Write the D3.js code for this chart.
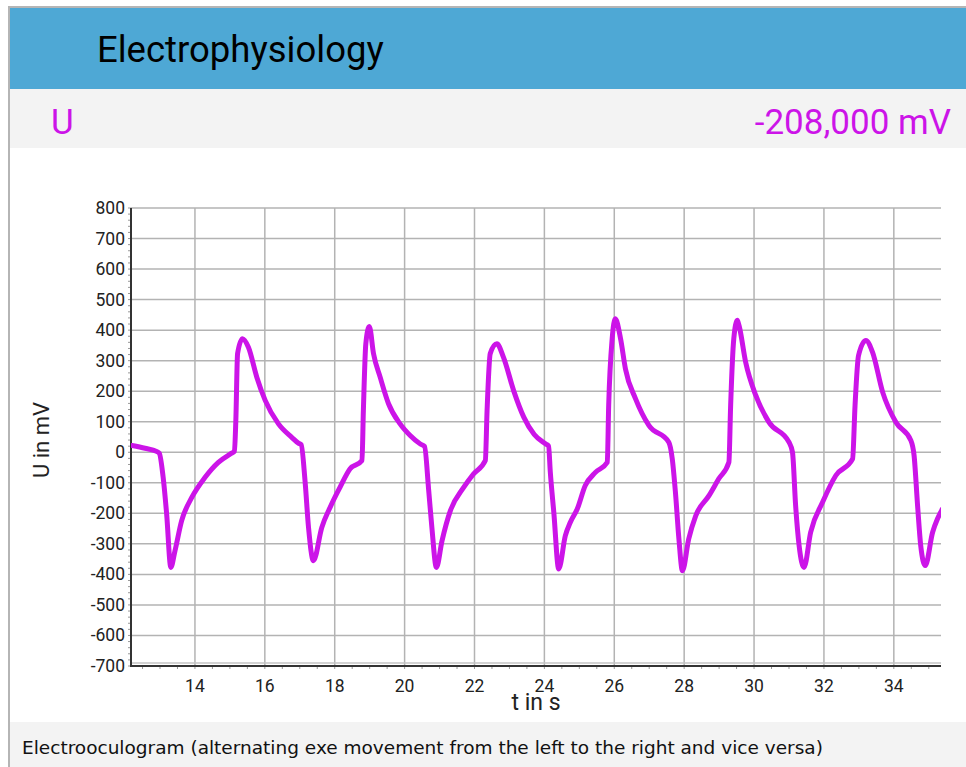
<!DOCTYPE html>
<html>
<head>
<meta charset="utf-8">
<script src="https://cdn.jsdelivr.net/npm/d3@7"></script>
<style>
	body { margin: 0; background: #fff; }
	svg { display: block; }
</style>
</head>
<body>
<div id="chartDiv"></div>
<script>
// time in s, voltage in mV
var timeS = [12.20, 12.57, 12.90, 12.98, 13.09, 13.19, 13.31, 13.43, 13.62, 13.91, 14.29, 14.67, 15.05, 15.13,
	15.17, 15.22, 15.36, 15.53, 15.77, 16.01, 16.39, 16.77, 16.96, 17.04, 17.15, 17.25, 17.39, 17.63, 17.87,
	18.15, 18.44, 18.78, 18.82, 18.89, 18.99, 19.11, 19.30, 19.54, 19.87, 20.16, 20.45, 20.57, 20.69, 20.78,
	20.91, 21.07, 21.31, 21.69, 21.97, 22.31, 22.36, 22.45, 22.64, 22.83, 23.12, 23.41, 23.71, 24.04, 24.12,
	24.17, 24.27, 24.41, 24.60, 24.74, 24.94, 25.17, 25.46, 25.80, 25.84, 25.94, 26.03, 26.18, 26.32, 26.61,
	26.99, 27.56, 27.66, 27.75, 27.85, 27.95, 28.13, 28.33, 28.71, 28.99, 29.28, 29.33, 29.42, 29.52, 29.57,
	29.76, 30.05, 30.43, 31.00, 31.10, 31.19, 31.29, 31.43, 31.62, 31.96, 32.34, 32.82, 32.89, 32.99, 33.20,
	33.39, 33.68, 34.06, 34.49, 34.58, 34.68, 34.77, 34.90, 35.11, 35.25, 35.39];
var voltMv = [22, 13, 3, -3, -82, -202, -377, -322, -224, -148, -82, -33, -3, 3,
	104, 323, 372, 344, 246, 170, 93, 49, 30, 25, -93, -246, -355, -246, -180,
	-115, -54, -27, 137, 355, 412, 323, 246, 159, 93, 55, 27, 19, -126, -246,
	-377, -290, -191, -115, -71, -27, 137, 323, 355, 311, 202, 115, 58, 27, 20,
	-66, -197, -382, -273, -230, -186, -109, -66, -33, 153, 372, 437, 372, 273, 175,
	88, 33, -22, -131, -284, -388, -284, -208, -142, -87, -33, 153, 372, 432, 415,
	295, 186, 98, 33, 0, -175, -306, -377, -262, -164, -76, -22, 153, 317, 366,
	328, 197, 98, 38, -11, -175, -306, -371, -262, -218, -186];

var yTicks = [800, 700, 600, 500, 400, 300, 200, 100, 0, -100, -200, -300, -400, -500, -600, -700];
var xTicks = [14, 16, 18, 20, 22, 24, 26, 28, 30, 32, 34];

var titleText = "Electrophysiology";
var quantityName = "U";
var currentValue = "-208,000 mV";
var xLabel = "t in s";
var yLabel = "U in mV";
var caption = "Electrooculogram (alternating exe movement from the left to the right and vice versa)";

var W = 966, H = 767;
var magenta = "#cc14e8";

var svg = d3.select("#chartDiv").append("svg")
	.attr("width", W).attr("height", H);

// page frame
svg.append("rect").attr("x", 0).attr("y", 0).attr("width", W).attr("height", H).attr("fill", "#fff");
svg.append("rect").attr("x", 8).attr("y", 6).attr("width", W - 8).attr("height", 2).attr("fill", "#b5b5b5");
svg.append("rect").attr("x", 8).attr("y", 6).attr("width", 2).attr("height", H - 6).attr("fill", "#b5b5b5");

// header
svg.append("rect").attr("x", 10).attr("y", 8).attr("width", W - 10).attr("height", 81).attr("fill", "#4ea8d5");
svg.append("text").attr("x", 97).attr("y", 62)
	.style("font-family", "Roboto, sans-serif").style("font-size", "36.5px").attr("fill", "#000")
	.text(titleText);

// value band
svg.append("rect").attr("x", 10).attr("y", 89).attr("width", W - 10).attr("height", 59).attr("fill", "#f3f3f3");
svg.append("text").attr("x", 51).attr("y", 134)
	.style("font-family", "Roboto, sans-serif").style("font-size", "35px").attr("fill", magenta)
	.text(quantityName);
svg.append("text").attr("x", 951).attr("y", 134).attr("text-anchor", "end")
	.style("font-family", "Roboto, sans-serif").style("font-size", "35px").attr("fill", magenta)
	.text(currentValue);

// caption band
svg.append("rect").attr("x", 10).attr("y", 722).attr("width", W - 10).attr("height", 45).attr("fill", "#f3f3f3");
svg.append("text").attr("x", 22).attr("y", 754)
	.style("font-family", "'DejaVu Sans', sans-serif").style("font-size", "18.5px").attr("fill", "#111")
	.text(caption);

// plot
var plotL = 131, plotR = 941, plotT = 208, plotB = 666;
var x = d3.scaleLinear().domain([12.17, 35.35]).range([plotL, plotR]);
var y = d3.scaleLinear().domain([-700, 800]).range([plotB, plotT]);

var grid = svg.append("g");
grid.selectAll("line.h").data(yTicks).enter().append("line")
	.attr("x1", plotL).attr("x2", plotR)
	.attr("y1", function(d) { return y(d); }).attr("y2", function(d) { return y(d); })
	.attr("stroke", "#b3b3b3").attr("stroke-width", 1.5);
grid.selectAll("line.v").data(xTicks).enter().append("line")
	.attr("y1", plotT).attr("y2", plotB)
	.attr("x1", function(d) { return x(d); }).attr("x2", function(d) { return x(d); })
	.attr("stroke", "#b3b3b3").attr("stroke-width", 1.5);

// minor ticks
var yMinor = d3.range(-700, 801, 20);
svg.append("g").selectAll("line").data(yMinor).enter().append("line")
	.attr("x1", plotL - 3).attr("x2", plotL)
	.attr("y1", function(d) { return y(d); }).attr("y2", function(d) { return y(d); })
	.attr("stroke", "#999").attr("stroke-width", 1);
var xMinor = d3.range(12.5, 35.3, 0.5);
svg.append("g").selectAll("line").data(xMinor).enter().append("line")
	.attr("y1", plotB).attr("y2", plotB + 3)
	.attr("x1", function(d) { return x(d); }).attr("x2", function(d) { return x(d); })
	.attr("stroke", "#999").attr("stroke-width", 1);

// axes lines
svg.append("line").attr("x1", plotL).attr("x2", plotR).attr("y1", plotB - 3).attr("y2", plotB - 3)
	.attr("stroke", "#c4c4c4").attr("stroke-width", 1.5);
svg.append("line").attr("x1", plotL).attr("x2", plotL).attr("y1", plotT).attr("y2", plotB + 1)
	.attr("stroke", "#333").attr("stroke-width", 2);
svg.append("line").attr("x1", plotL).attr("x2", plotR).attr("y1", plotB).attr("y2", plotB)
	.attr("stroke", "#333").attr("stroke-width", 2);

// tick labels
svg.append("g").selectAll("text").data(yTicks).enter().append("text")
	.attr("x", 125).attr("y", function(d) { return y(d) + 6; })
	.attr("text-anchor", "end")
	.style("font-family", "Roboto, sans-serif").style("font-size", "17.5px").attr("fill", "#222")
	.text(function(d) { return d; });
svg.append("g").selectAll("text").data(xTicks).enter().append("text")
	.attr("x", function(d) { return x(d); }).attr("y", 692)
	.attr("text-anchor", "middle")
	.style("font-family", "Roboto, sans-serif").style("font-size", "17.5px").attr("fill", "#222")
	.text(function(d) { return d; });

svg.append("text").attr("x", 536).attr("y", 710).attr("text-anchor", "middle")
	.style("font-family", "Roboto, sans-serif").style("font-size", "23px").attr("fill", "#222")
	.text(xLabel);
svg.append("text").attr("transform", "translate(49,440) rotate(-90)").attr("text-anchor", "middle")
	.style("font-family", "Roboto, sans-serif").style("font-size", "22px").attr("fill", "#222")
	.text(yLabel);

// trace
var pts = timeS.map(function(t, i) { return [t, voltMv[i]]; });
var line = d3.line()
	.x(function(d) { return x(d[0]); })
	.y(function(d) { return y(d[1]); })
	.curve(d3.curveMonotoneX);
svg.append("defs").append("clipPath").attr("id", "plotClip")
	.append("rect").attr("x", plotL).attr("y", plotT - 10).attr("width", plotR - plotL).attr("height", plotB - plotT + 10);
svg.append("path").datum(pts)
	.attr("clip-path", "url(#plotClip)")
	.attr("d", line)
	.attr("fill", "none")
	.attr("stroke", magenta)
	.attr("stroke-width", 5)
	.attr("stroke-linejoin", "round")
	.attr("stroke-linecap", "round");
</script>
</body>
</html>
